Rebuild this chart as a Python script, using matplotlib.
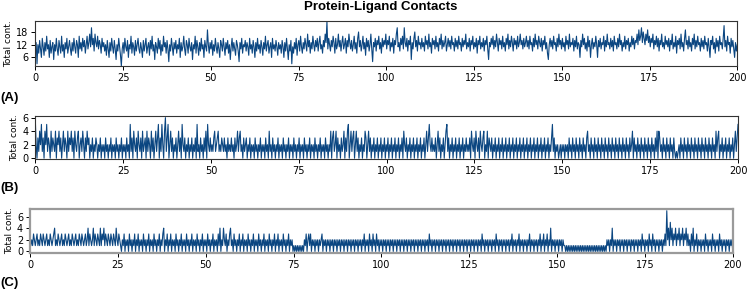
import matplotlib
matplotlib.use("Agg")
import matplotlib.pyplot as plt
import numpy as np

# frames, 40 per 10 ns, 0-200 ns

# (A) total contacts
contacts_a = [
    9, 13, 3, 12, 8, 14, 10, 6, 15, 11, 7, 13, 9, 16, 10, 12, 6, 14, 8, 11, 13, 5, 12, 9, 15, 10, 7, 14, 11, 8, 16, 9, 12, 6, 13, 10, 15, 8, 11, 14,
    10, 7, 13, 9, 15, 11, 8, 14, 12, 6, 16, 10, 13, 9, 15, 11, 14, 8, 12, 16, 10, 13, 17, 11, 20, 12, 15, 9, 17, 13, 11, 16, 10, 14, 12, 8, 15, 11, 13, 9,
    12, 7, 14, 10, 6, 13, 9, 15, 11, 8, 14, 10, 5, 12, 9, 15, 11, 7, 2, 10, 13, 8, 15, 11, 9, 14, 6, 12, 10, 16, 8, 13, 11, 7, 14, 9, 12, 15, 10, 8,
    13, 10, 6, 14, 9, 12, 15, 8, 11, 13, 7, 14, 10, 16, 9, 12, 5, 13, 11, 8, 15, 10, 14, 7, 12, 9, 16, 11, 13, 8, 14, 10, 4, 12, 9, 15, 11, 7, 13, 10,
    14, 8, 12, 10, 15, 6, 13, 9, 11, 16, 10, 7, 14, 12, 8, 15, 11, 9, 13, 5, 12, 10, 16, 8, 14, 11, 7, 13, 9, 15, 10, 12, 6, 14, 11, 9, 19, 12, 8, 13,
    10, 14, 7, 12, 9, 15, 11, 8, 13, 10, 6, 14, 12, 9, 15, 11, 7, 13, 10, 14, 8, 12, 5, 11, 15, 9, 13, 10, 7, 14, 12, 9, 4, 13, 10, 15, 8, 12, 11, 14,
    9, 13, 11, 7, 15, 10, 12, 8, 14, 11, 6, 13, 9, 15, 10, 12, 8, 14, 11, 7, 13, 10, 16, 9, 12, 14, 8, 11, 13, 6, 15, 10, 12, 9, 14, 11, 7, 13, 10, 12,
    8, 14, 11, 6, 13, 9, 15, 10, 5, 12, 9, 14, 3, 11, 8, 13, 10, 15, 7, 12, 14, 9, 16, 11, 8, 13, 10, 15, 12, 9, 17, 11, 14, 8, 13, 10, 16, 12, 9, 14,
    11, 15, 9, 13, 16, 10, 12, 8, 14, 11, 17, 13, 23, 10, 15, 12, 9, 14, 11, 16, 13, 8, 15, 10, 12, 17, 11, 14, 9, 13, 16, 10, 12, 15, 8, 14, 11, 17, 13, 10,
    14, 9, 12, 16, 10, 13, 8, 15, 18, 11, 14, 9, 12, 16, 10, 13, 7, 15, 11, 14, 9, 12, 17, 10, 4, 13, 11, 15, 9, 14, 12, 16, 10, 13, 8, 15, 11, 14, 12, 17,
    10, 14, 12, 16, 9, 13, 11, 15, 8, 14, 12, 17, 20, 11, 13, 9, 15, 12, 16, 10, 20, 13, 11, 15, 9, 14, 12, 16, 5, 13, 10, 15, 18, 11, 14, 9, 16, 12, 13, 10,
    15, 11, 13, 9, 16, 12, 14, 10, 17, 11, 13, 8, 15, 12, 14, 10, 16, 11, 13, 9, 15, 12, 17, 10, 14, 11, 13, 16, 9, 12, 15, 11, 14, 10, 16, 12, 13, 9, 15, 11,
    14, 10, 16, 12, 13, 9, 15, 11, 14, 12, 17, 10, 13, 11, 15, 9, 14, 12, 16, 10, 13, 11, 15, 8, 14, 12, 16, 10, 13, 11, 15, 9, 14, 12, 16, 10, 5, 13, 11, 15,
    12, 16, 10, 14, 11, 17, 13, 9, 15, 12, 14, 10, 16, 11, 13, 9, 15, 12, 17, 10, 14, 11, 16, 13, 9, 15, 12, 14, 10, 16, 11, 13, 17, 12, 14, 10, 15, 11, 13, 16,
    11, 14, 10, 16, 12, 13, 9, 15, 11, 17, 12, 14, 10, 16, 13, 11, 15, 9, 14, 12, 16, 10, 13, 8, 5, 12, 15, 11, 14, 10, 16, 12, 13, 9, 15, 11, 17, 12, 14, 10,
    15, 11, 13, 9, 16, 12, 14, 10, 17, 11, 13, 12, 15, 9, 14, 11, 16, 10, 13, 12, 6, 14, 11, 17, 12, 15, 10, 13, 9, 16, 11, 14, 6, 12, 15, 10, 13, 11, 16, 12,
    6, 14, 11, 15, 10, 13, 12, 16, 9, 14, 11, 17, 12, 13, 10, 15, 11, 14, 9, 16, 12, 13, 10, 15, 11, 17, 12, 14, 9, 13, 11, 16, 10, 14, 12, 15, 9, 13, 11, 16,
    12, 15, 10, 14, 13, 17, 12, 19, 14, 16, 20, 13, 18, 15, 12, 17, 14, 19, 13, 16, 11, 15, 13, 17, 10, 14, 12, 16, 11, 15, 9, 14, 12, 17, 11, 13, 10, 16, 12, 14,
    11, 15, 9, 14, 12, 17, 10, 13, 11, 16, 8, 14, 12, 15, 10, 17, 11, 13, 9, 15, 19, 12, 14, 10, 16, 11, 13, 9, 15, 12, 17, 10, 14, 11, 16, 12, 13, 9, 15, 11,
    14, 10, 16, 12, 13, 9, 15, 11, 6, 14, 12, 16, 10, 13, 8, 15, 11, 14, 9, 16, 12, 13, 10, 15, 21, 11, 14, 9, 16, 12, 13, 8, 15, 11, 14, 10, 6, 13, 9, 12,
]

# (B) total contacts
contacts_b = [
    6, 2, 0, 3, 1, 4, 2, 5, 1, 3, 0, 4, 2, 5, 1, 3, 2, 0, 4, 1, 3, 2, 1, 4, 0, 3, 2, 4, 1, 3, 0, 2, 4, 1, 3, 2, 0, 4, 1, 3,
    2, 4, 1, 3, 0, 4, 2, 1, 3, 4, 0, 2, 3, 1, 4, 2, 0, 3, 1, 4, 2, 3, 0, 2, 1, 3, 0, 2, 1, 3, 2, 0, 2, 1, 3, 0, 2, 1, 2, 0,
    3, 1, 2, 0, 2, 1, 3, 0, 2, 1, 2, 0, 3, 1, 2, 0, 2, 1, 3, 0, 2, 1, 2, 0, 3, 1, 2, 0, 5, 1, 3, 0, 4, 2, 1, 3, 0, 4, 2, 1,
    3, 0, 4, 1, 2, 3, 0, 4, 1, 3, 2, 0, 4, 1, 3, 0, 2, 4, 1, 3, 5, 0, 3, 1, 5, 2, 0, 4, 6, 1, 3, 5, 0, 2, 4, 1, 3, 0, 2, 1,
    3, 0, 2, 4, 1, 3, 0, 5, 2, 1, 3, 0, 2, 1, 3, 0, 2, 1, 3, 0, 2, 1, 3, 0, 5, 1, 2, 0, 3, 1, 2, 0, 3, 1, 4, 0, 5, 2, 1, 3,
    1, 2, 1, 3, 4, 1, 2, 3, 4, 1, 2, 1, 3, 2, 1, 3, 1, 2, 0, 3, 1, 2, 1, 3, 1, 2, 0, 3, 1, 2, 4, 1, 3, 4, 1, 2, 0, 3, 1, 2,
    3, 0, 2, 1, 3, 0, 2, 1, 2, 0, 3, 1, 2, 0, 2, 1, 3, 0, 2, 1, 2, 0, 3, 1, 2, 0, 4, 1, 2, 0, 3, 1, 2, 0, 2, 1, 3, 0, 2, 1,
    2, 0, 3, 1, 2, 0, 2, 1, 3, 0, 2, 1, 2, 0, 3, 1, 2, 0, 2, 1, 3, 0, 2, 1, 2, 0, 3, 1, 2, 0, 2, 1, 3, 0, 2, 1, 2, 0, 3, 1,
    2, 0, 2, 1, 3, 0, 2, 1, 2, 0, 3, 1, 2, 0, 2, 1, 4, 0, 3, 4, 1, 2, 4, 0, 3, 1, 2, 0, 3, 1, 2, 4, 0, 3, 1, 4, 5, 0, 2, 4,
    1, 3, 4, 0, 2, 4, 1, 3, 0, 2, 1, 3, 0, 2, 1, 4, 3, 0, 2, 4, 1, 3, 0, 2, 1, 3, 0, 2, 1, 3, 0, 2, 1, 3, 0, 2, 1, 3, 0, 2,
    1, 3, 0, 2, 1, 3, 0, 2, 1, 3, 0, 2, 1, 3, 0, 2, 1, 3, 0, 4, 2, 1, 3, 0, 2, 1, 3, 0, 2, 1, 3, 0, 2, 1, 3, 0, 2, 1, 3, 0,
    2, 1, 3, 0, 2, 4, 1, 3, 5, 2, 1, 3, 1, 2, 1, 3, 0, 2, 4, 1, 3, 0, 2, 1, 3, 0, 2, 4, 5, 1, 3, 0, 2, 1, 3, 0, 2, 1, 3, 0,
    2, 1, 3, 0, 2, 1, 3, 0, 2, 1, 3, 1, 2, 1, 3, 0, 4, 2, 1, 3, 0, 4, 2, 1, 3, 0, 4, 2, 1, 3, 4, 0, 2, 1, 4, 0, 3, 2, 1, 3,
    0, 2, 1, 3, 0, 2, 1, 3, 0, 2, 1, 3, 0, 2, 1, 3, 0, 2, 1, 3, 0, 2, 1, 3, 0, 2, 1, 3, 0, 2, 1, 3, 0, 2, 1, 3, 0, 2, 1, 3,
    0, 2, 1, 3, 0, 2, 1, 3, 0, 2, 1, 3, 0, 2, 1, 3, 0, 2, 1, 3, 0, 2, 1, 3, 0, 2, 1, 3, 5, 1, 3, 0, 2, 1, 2, 0, 1, 2, 0, 2,
    1, 2, 0, 2, 1, 2, 0, 3, 1, 2, 0, 3, 1, 2, 0, 3, 1, 2, 0, 3, 1, 2, 0, 3, 1, 2, 0, 3, 4, 1, 2, 0, 3, 1, 2, 0, 3, 1, 2, 0,
    3, 1, 2, 0, 3, 1, 2, 0, 3, 1, 2, 0, 3, 1, 2, 0, 3, 1, 2, 0, 3, 1, 2, 0, 3, 1, 2, 0, 3, 1, 2, 0, 3, 1, 2, 0, 3, 1, 2, 4,
    0, 3, 1, 2, 0, 3, 1, 2, 0, 3, 1, 2, 0, 3, 1, 2, 0, 3, 1, 2, 0, 3, 1, 2, 0, 3, 1, 4, 0, 4, 3, 1, 2, 0, 3, 1, 2, 0, 3, 1,
    2, 0, 3, 1, 2, 0, 3, 1, 0, 1, 0, 1, 2, 0, 3, 1, 2, 0, 3, 1, 2, 0, 3, 1, 2, 0, 3, 1, 2, 0, 3, 1, 2, 0, 3, 1, 2, 0, 3, 1,
    2, 0, 3, 1, 2, 0, 3, 1, 2, 0, 3, 1, 2, 0, 4, 1, 3, 4, 0, 2, 1, 3, 0, 2, 1, 3, 0, 2, 1, 3, 0, 2, 1, 3, 0, 2, 4, 1, 3, 5,
]

# (C) total contacts
contacts_c = [
    3, 1, 2, 1, 3, 2, 1, 2, 3, 1, 2, 1, 3, 2, 1, 3, 2, 1, 2, 3, 1, 2, 1, 3, 2, 1, 2, 3, 4, 1, 2, 1, 3, 2, 1, 2, 3, 1, 2, 1,
    3, 2, 1, 2, 3, 1, 2, 1, 3, 2, 1, 2, 3, 1, 2, 1, 3, 2, 1, 3, 2, 1, 2, 3, 1, 2, 4, 1, 3, 2, 1, 2, 4, 1, 3, 2, 1, 3, 2, 1,
    4, 1, 3, 2, 4, 1, 3, 2, 1, 3, 2, 1, 3, 2, 1, 3, 2, 1, 4, 2, 1, 3, 2, 1, 0, 2, 1, 3, 0, 2, 1, 2, 0, 3, 1, 2, 0, 2, 1, 3,
    0, 2, 1, 3, 0, 2, 1, 2, 0, 3, 1, 2, 0, 2, 1, 3, 0, 2, 1, 2, 0, 3, 1, 2, 0, 2, 1, 3, 0, 2, 1, 3, 4, 0, 2, 1, 3, 0, 2, 1,
    3, 0, 2, 1, 2, 0, 3, 1, 2, 0, 2, 1, 3, 0, 2, 1, 2, 0, 3, 1, 2, 0, 2, 1, 3, 0, 2, 1, 2, 0, 3, 1, 2, 0, 2, 1, 3, 0, 2, 1,
    2, 0, 3, 1, 2, 0, 2, 1, 3, 0, 2, 1, 2, 0, 3, 1, 4, 0, 2, 1, 4, 2, 1, 3, 0, 2, 1, 3, 4, 1, 2, 0, 3, 1, 2, 0, 2, 1, 3, 0,
    2, 1, 3, 0, 2, 1, 2, 0, 3, 1, 2, 0, 2, 1, 3, 0, 2, 1, 2, 0, 3, 1, 2, 0, 2, 1, 3, 0, 2, 1, 2, 0, 3, 1, 2, 0, 2, 1, 3, 0,
    2, 1, 3, 0, 2, 1, 2, 0, 3, 1, 2, 0, 2, 1, 3, 0, 2, 1, 2, 0, 1, 0, 1, 0, 1, 0, 1, 0, 1, 0, 1, 0, 2, 1, 3, 0, 2, 3, 1, 3,
    0, 2, 1, 2, 0, 2, 1, 2, 0, 2, 1, 2, 3, 0, 2, 1, 2, 0, 2, 1, 2, 0, 2, 1, 2, 0, 2, 1, 2, 0, 2, 1, 2, 0, 2, 1, 2, 0, 2, 1,
    2, 0, 2, 1, 2, 0, 2, 1, 2, 0, 2, 1, 2, 0, 2, 1, 2, 0, 2, 1, 3, 0, 2, 1, 2, 0, 3, 1, 2, 0, 3, 1, 2, 0, 3, 1, 2, 0, 2, 1,
    2, 0, 2, 1, 2, 0, 2, 1, 2, 0, 2, 1, 2, 0, 2, 1, 2, 0, 2, 1, 2, 0, 2, 1, 2, 0, 2, 1, 2, 0, 2, 1, 2, 0, 2, 1, 2, 0, 2, 1,
    2, 0, 2, 1, 2, 0, 2, 1, 2, 0, 2, 1, 2, 0, 3, 1, 2, 0, 2, 1, 2, 0, 2, 1, 2, 0, 2, 1, 2, 0, 2, 1, 2, 0, 2, 1, 2, 0, 2, 1,
    2, 0, 2, 1, 2, 0, 2, 1, 2, 0, 2, 1, 2, 0, 2, 1, 2, 0, 2, 1, 2, 0, 2, 1, 2, 0, 2, 1, 2, 0, 2, 1, 2, 0, 3, 1, 2, 0, 2, 1,
    2, 0, 2, 1, 2, 0, 2, 1, 2, 0, 3, 1, 2, 0, 2, 1, 2, 0, 2, 1, 2, 0, 2, 1, 2, 0, 2, 1, 3, 0, 2, 1, 2, 0, 2, 1, 3, 0, 2, 1,
    2, 0, 2, 1, 2, 0, 2, 1, 3, 0, 2, 1, 2, 0, 2, 1, 2, 0, 2, 1, 3, 0, 2, 1, 3, 0, 2, 1, 3, 0, 2, 1, 4, 0, 2, 1, 2, 0, 2, 1,
    2, 0, 2, 1, 2, 0, 2, 1, 1, 0, 1, 0, 1, 0, 1, 0, 1, 0, 1, 0, 1, 0, 1, 0, 1, 0, 1, 0, 1, 0, 1, 0, 1, 0, 1, 0, 1, 0, 1, 0,
    1, 0, 1, 0, 1, 0, 1, 0, 1, 0, 1, 0, 1, 0, 1, 0, 2, 1, 2, 0, 2, 1, 4, 0, 2, 1, 2, 0, 2, 1, 2, 0, 2, 1, 2, 0, 2, 1, 2, 0,
    2, 1, 2, 0, 2, 1, 2, 0, 2, 1, 2, 0, 2, 1, 2, 0, 3, 1, 2, 0, 2, 1, 2, 0, 3, 1, 2, 0, 3, 1, 2, 0, 2, 1, 2, 0, 2, 1, 2, 0,
    2, 1, 3, 1, 7, 2, 4, 1, 5, 2, 4, 1, 3, 2, 4, 1, 3, 2, 4, 1, 3, 2, 4, 1, 3, 2, 4, 1, 3, 1, 2, 0, 3, 1, 4, 0, 2, 1, 3, 0,
    2, 1, 2, 0, 2, 1, 2, 0, 3, 1, 2, 0, 2, 1, 2, 0, 3, 1, 2, 0, 2, 1, 2, 0, 3, 1, 2, 0, 2, 1, 2, 0, 2, 1, 2, 0, 2, 1, 2, 0,
]

panel_labels = ["(A)", "(B)", "(C)"]
a_yticks = [6, 12, 18]
bc_yticks = [0, 2, 4, 6]
x_ticks = [0, 25, 50, 75, 100, 125, 150, 175, 200]

line_color = "#0b4681"

fig = plt.figure(figsize=(7.5, 2.89), dpi=100)

# axes boxes [left, bottom, width, height]
boxes = [
    [0.047, 0.772, 0.936, 0.154],
    [0.047, 0.449, 0.937, 0.151],
    [0.040, 0.126, 0.937, 0.151],
]
series = [contacts_a, contacts_b, contacts_c]
label_y = [0.650, 0.338, 0.012]

for i, (box, vals) in enumerate(zip(boxes, series)):
    ax = fig.add_axes(box)
    t = np.linspace(0, 200, len(vals))
    ax.plot(t, vals, color=line_color, lw=0.8)
    ax.set_xlim(0, 200)
    ax.set_xticks(x_ticks)
    if i == 0:
        ax.set_ylim(min(vals), max(vals))
        ax.set_yticks(a_yticks)
    elif i == 1:
        ax.set_ylim(-0.15, 6.3)
        ax.set_yticks(bc_yticks)
    else:
        ax.set_ylim(-0.2, 7.3)
        ax.set_yticks(bc_yticks)
    ax.tick_params(labelsize=7, length=3, width=0.7, pad=2)
    ax.set_ylabel("Total cont.", fontsize=6.5, labelpad=2)
    if i == 2:
        for s in ax.spines.values():
            s.set_color("#9a9a9a")
            s.set_linewidth(1.6)
    else:
        for s in ax.spines.values():
            s.set_color("#333333")
            s.set_linewidth(0.8)
    fig.text(0.001, label_y[i], panel_labels[i], fontsize=9.5,
             fontweight="bold", family="Liberation Sans")

fig.text(0.507, 0.977, "Protein-Ligand Contacts", ha="center", va="center",
         fontsize=9.5, fontweight="bold", family="Liberation Sans")

fig.savefig("out.png", dpi=100)
